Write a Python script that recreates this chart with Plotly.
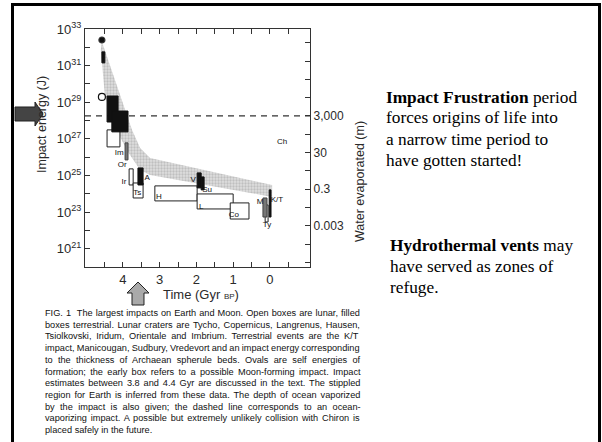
import math
import plotly.graph_objects as go

W, H = 602, 442

# ---------------- data ----------------
# stippled region (time in Gyr BP, log10 impact energy in J)
band_upper_t = [4.57, 4.13, 3.75, 3.53, 3.26, -0.06]
band_upper_logE = [32.30, 29.78, 27.49, 26.50, 25.96, 24.48]
band_lower_t = [4.60, 4.49, 4.21, 3.86, 3.53, 3.26, -0.06]
band_lower_logE = [31.86, 29.40, 27.60, 26.28, 25.30, 25.03, 23.83]

# impact boxes
box_names = ["early", "B1", "B2", "lunar", "Im", "Ir", "A", "Ts", "H",
             "V", "Su", "L", "Co", "M", "Ty", "K/T"]
box_t_old = [4.57, 4.43, 4.30, 4.43, 3.94, 3.83, 3.59, 3.72, 3.13,
             1.98, 1.87, 1.98, 1.08, 0.19, 0.13, 0.02]
box_t_young = [4.49, 4.13, 3.86, 4.08, 3.86, 3.72, 3.45, 3.45, 1.98,
               1.87, 1.79, 1.00, 0.57, 0.08, 0.05, -0.03]
box_logE_low = [31.15, 27.92, 27.38, 26.56, 25.85, 24.48, 24.48, 23.77, 23.61,
                24.32, 24.21, 23.17, 22.62, 22.73, 22.46, 22.73]
box_logE_high = [31.75, 29.34, 28.52, 27.49, 26.78, 25.36, 25.41, 24.59, 24.43,
                 25.14, 24.92, 23.99, 23.50, 23.77, 23.39, 24.21]
box_kind = ["filled", "filled", "filled", "open", "gray", "open", "filled", "open", "open",
            "filled", "filled", "open", "open", "gray", "open", "filled"]

# ovals (self energies of formation)
oval_t = [4.57, 4.57]
oval_logE = [32.40, 29.29]
oval_filled = [True, False]

# crater / event labels
label_text = ["Im", "Or", "Ir", "A", "Ts", "H", "V", "Su", "L", "Co", "M", "K/T", "Ty", "Ch"]
label_t = [4.10, 4.02, 3.97, 3.34, 3.61, 3.02, 2.09, 1.71, 1.87, 0.98, 0.27, -0.19, 0.08, -0.33]
label_logE = [26.23, 25.57, 24.64, 24.86, 24.04, 23.83, 24.75, 24.21, 23.28, 22.84, 23.55, 23.66, 22.30, 26.83]

# ocean-vaporizing energy (dashed line)
vapor_logE = 28.25
vapor_depth_m = 3000.0

# axes
x_tick_vals = [4.5, 4, 3.5, 3, 2.5, 2, 1.5, 1, 0.5, 0, -0.5]
x_tick_text = ["", "4", "", "3", "", "2", "", "1", "", "0", ""]
energy_exponents = list(range(20, 34))
water_tick_vals = [3e-5, 3e-4, 3e-3, 3e-2, 3e-1, 3.0, 30.0, 300.0, 3000.0, 3e4, 3e5, 3e6, 3e7]
water_tick_text = ["", "", "0.003", "", "0.3", "", "30", "", "3,000", "", "", "", ""]

caption_lines = [
    "FIG. 1  The largest impacts on Earth and Moon. Open boxes are lunar, filled",
    "boxes terrestrial. Lunar craters are Tycho, Copernicus, Langrenus, Hausen,",
    "Tsiolkovski, Iridum, Orientale and Imbrium. Terrestrial events are the K/T",
    "impact, Manicougan, Sudbury, Vredevort and an impact energy corresponding",
    "to the thickness of Archaean spherule beds. Ovals are self energies of",
    "formation; the early box refers to a possible Moon-forming impact. Impact",
    "estimates between 3.8 and 4.4 Gyr are discussed in the text. The stippled",
    "region for Earth is inferred from these data. The depth of ocean vaporized",
    "by the impact is also given; the dashed line corresponds to an ocean-",
    "vaporizing impact. A possible but extremely unlikely collision with Chiron is",
    "placed safely in the future.",
]

side_text_1 = ["<b>Impact Frustration</b> period", "forces origins of life into",
               "a narrow time period to", "have gotten started!"]
side_text_2 = ["<b>Hydrothermal vents</b> may", "have served as zones of", "refuge."]

# ---------------- layout helpers ----------------
def px(x, y):
    return x / W, 1 - y / H

def pw(e):
    return 10.0 ** e

X_RANGE = [5.03, -1.09]
E_RANGE = [20, 33]
shift = vapor_logE - math.log10(vapor_depth_m)
W_RANGE = [E_RANGE[0] - shift, E_RANGE[1] - shift]

SANS = "Liberation Sans, Arial, sans-serif"
SERIF = "Liberation Serif, Times New Roman, serif"
INK = "#2a2a2a"

# approximate Arial/Liberation Sans advance widths (per 1000 em) for justification
_AW = {" ": 278, ".": 278, ",": 278, ";": 278, ":": 278, "-": 333, "/": 278, "(": 333, ")": 333}
for ch, w in zip("abcdefghijklmnopqrstuvwxyz",
                 [556, 556, 500, 556, 556, 278, 556, 556, 222, 222, 500, 222, 833, 556, 556, 556,
                  556, 333, 500, 278, 556, 500, 722, 500, 500, 500]):
    _AW[ch] = w
for ch, w in zip("ABCDEFGHIJKLMNOPQRSTUVWXYZ",
                 [667, 667, 722, 722, 667, 611, 778, 722, 278, 500, 667, 556, 833, 722, 778, 667,
                  778, 722, 667, 611, 722, 667, 944, 667, 667, 611]):
    _AW[ch] = w
for ch in "0123456789":
    _AW[ch] = 556

def text_width(s, size):
    return sum(_AW.get(c, 556) for c in s) * size / 1000.0

fig = go.Figure()

# stippled region
poly_t = band_upper_t + band_lower_t[::-1]
poly_E = [pw(e) for e in band_upper_logE + band_lower_logE[::-1]]
fig.add_trace(go.Scatter(
    x=poly_t, y=poly_E, mode="lines", fill="toself",
    fillcolor="#d9d9d9", line=dict(width=0, color="#d9d9d9"),
    fillpattern=dict(shape=".", fgcolor="#a0a0a0", bgcolor="#dedede", size=3, solidity=0.45),
    hoverinfo="skip", showlegend=False))

# dashed ocean-vaporization line
fig.add_trace(go.Scatter(
    x=X_RANGE, y=[pw(vapor_logE)] * 2, mode="lines",
    line=dict(color="#333333", width=1.3, dash="6px,5px"),
    hoverinfo="skip", showlegend=False))

# boxes (open first, then gray, then filled)
style = {"open": ("white", "#222222"), "gray": ("#777777", "#444444"), "filled": ("#111111", "#111111")}
for kind in ["open", "gray", "filled"]:
    for i in range(len(box_names)):
        if box_kind[i] != kind:
            continue
        t0, t1 = box_t_old[i], box_t_young[i]
        e0, e1 = pw(box_logE_low[i]), pw(box_logE_high[i])
        fc, lc = style[kind]
        fig.add_trace(go.Scatter(
            x=[t0, t1, t1, t0, t0], y=[e0, e0, e1, e1, e0], mode="lines",
            fill="toself", fillcolor=fc, line=dict(color=lc, width=1),
            name=box_names[i], hoverinfo="name", showlegend=False))

# ovals
for t, e, f in zip(oval_t, oval_logE, oval_filled):
    fig.add_trace(go.Scatter(
        x=[t], y=[pw(e)], mode="markers",
        marker=dict(symbol="circle" if f else "circle-open", size=6 if f else 7,
                    color="#111111", line=dict(width=1.2, color="#333333")),
        hoverinfo="skip", showlegend=False))

# labels
fig.add_trace(go.Scatter(
    x=label_t, y=[pw(e) for e in label_logE], mode="text", text=label_text,
    textfont=dict(family=SANS, size=8, color="#111111"),
    hoverinfo="skip", showlegend=False))

# invisible trace to activate the water axis
fig.add_trace(go.Scatter(x=[2.0], y=[1.0], yaxis="y2", mode="markers",
                         marker=dict(opacity=0), hoverinfo="skip", showlegend=False))

xd0, _ = px(85, 0)
xd1, _ = px(310, 0)
_, yd0 = px(0, 267)
_, yd1 = px(0, 29)

fig.update_layout(
    width=W, height=H, autosize=False,
    margin=dict(l=0, r=0, t=0, b=0, pad=0, autoexpand=False),
    paper_bgcolor="white", plot_bgcolor="white",
    showlegend=False,
    xaxis=dict(domain=[xd0, xd1], range=X_RANGE, tickvals=x_tick_vals, ticktext=x_tick_text,
               ticks="inside", ticklen=5, tickcolor="#333", showline=True, linecolor="#333",
               linewidth=1.3, mirror="ticks", showgrid=False, zeroline=False, automargin=False,
               tickfont=dict(family=SANS, size=13, color=INK)),
    yaxis=dict(domain=[yd0, yd1], type="log", range=E_RANGE,
               tickvals=[pw(k) for k in energy_exponents],
               ticktext=["10<sup>%d</sup>" % k if k % 2 == 1 else "" for k in energy_exponents],
               ticks="inside", ticklen=5, tickcolor="#333", showline=True, linecolor="#333",
               linewidth=1.3, showgrid=False, zeroline=False, automargin=False,
               tickfont=dict(family=SANS, size=13, color=INK)),
    yaxis2=dict(overlaying="y", side="right", type="log", range=W_RANGE,
                tickvals=water_tick_vals, ticktext=water_tick_text,
                ticks="inside", ticklen=5, tickcolor="#333", showline=True, linecolor="#333",
                linewidth=1.3, showgrid=False, zeroline=False, automargin=False,
                tickfont=dict(family=SANS, size=12, color=INK)),
)

ann = []
# axis titles
ax, ay = px(42, 125)
ann.append(dict(x=ax, y=ay, xref="paper", yref="paper", text="Impact energy (J)", textangle=-90,
                xanchor="center", yanchor="middle",
                showarrow=False, font=dict(family=SANS, size=12.5, color=INK)))
ax, ay = px(360, 182)
ann.append(dict(x=ax, y=ay, xref="paper", yref="paper", text="Water evaporated (m)", textangle=-90,
                xanchor="center", yanchor="middle",
                showarrow=False, font=dict(family=SANS, size=12.5, color=INK)))
ax, ay = px(201, 294)
ann.append(dict(x=ax, y=ay, xref="paper", yref="paper",
                text="Time (Gyr <span style='font-size:8px'>BP</span>)",
                xanchor="center", yanchor="middle",
                showarrow=False, font=dict(family=SANS, size=13, color=INK)))

# caption (justified via word spacing)
CAP_SIZE = 9.2
CAP_LEFT = 43
CAP_WIDTH = 316
for i, line in enumerate(caption_lines):
    ax, ay = px(CAP_LEFT, 313 + 11.7 * i)
    txt = line
    if i < len(caption_lines) - 1:
        n_sp = line.count(" ")
        extra = (CAP_WIDTH - text_width(line, CAP_SIZE)) / max(n_sp, 1)
        extra = max(min(extra, 3.0), -1.0)
        txt = "<span style='word-spacing:%.2fpx'>%s</span>" % (extra, line)
    ann.append(dict(x=ax, y=ay, xref="paper", yref="paper", text=txt, xanchor="left",
                    yanchor="middle", showarrow=False,
                    font=dict(family=SANS, size=CAP_SIZE, color="#111111")))
# side text
for i, line in enumerate(side_text_1):
    ax, ay = px(384, 97 + 21 * i)
    ann.append(dict(x=ax, y=ay, xref="paper", yref="paper", text=line, xanchor="left",
                    yanchor="middle", showarrow=False, font=dict(family=SERIF, size=17.3, color="black")))
for i, line in enumerate(side_text_2):
    ax, ay = px(388, 245 + 21 * i)
    ann.append(dict(x=ax, y=ay, xref="paper", yref="paper", text=line, xanchor="left",
                    yanchor="middle", showarrow=False, font=dict(family=SERIF, size=17.3, color="black")))
fig.update_layout(annotations=ann)

def path(points):
    s = ""
    for j, (x, y) in enumerate(points):
        a, b = px(x, y)
        s += ("M" if j == 0 else "L") + " %.5f,%.5f " % (a, b)
    return s + "Z"

def seg(x0, y0, x1, y1):
    a0, b0 = px(x0, y0)
    a1, b1 = px(x1, y1)
    return dict(type="line", xref="paper", yref="paper", x0=a0, y0=b0, x1=a1, y1=b1,
                line=dict(color="black", width=3), layer="above")

shapes = []
# slide frame (top, left, right)
shapes.append(seg(11, 4.5, 600.5, 4.5))
shapes.append(seg(12.5, 3, 12.5, 442))
shapes.append(seg(599.5, 3, 599.5, 442))
# right-pointing arrow
shapes.append(dict(type="path", xref="paper", yref="paper",
                   path=path([(15, 107), (35, 107), (35, 102), (43, 114), (35, 126), (35, 121), (15, 121)]),
                   fillcolor="#444444", line=dict(color="#222222", width=1)))
# up-pointing arrow
shapes.append(dict(type="path", xref="paper", yref="paper",
                   path=path([(138, 282), (149, 293), (144, 293), (144, 305), (132, 305), (132, 293), (127, 293)]),
                   fillcolor="#a9a9a9", line=dict(color="#222222", width=1)))
fig.update_layout(shapes=shapes)

post = ("document.body.style.margin='0px';"
        "document.documentElement.style.overflow='hidden';"
        "var d=document.getElementById('{plot_id}');"
        "d.style.position='fixed';d.style.top='0px';d.style.left='0px';")
fig.write_html("out.html", config={"displayModeBar": False}, post_script=post)
